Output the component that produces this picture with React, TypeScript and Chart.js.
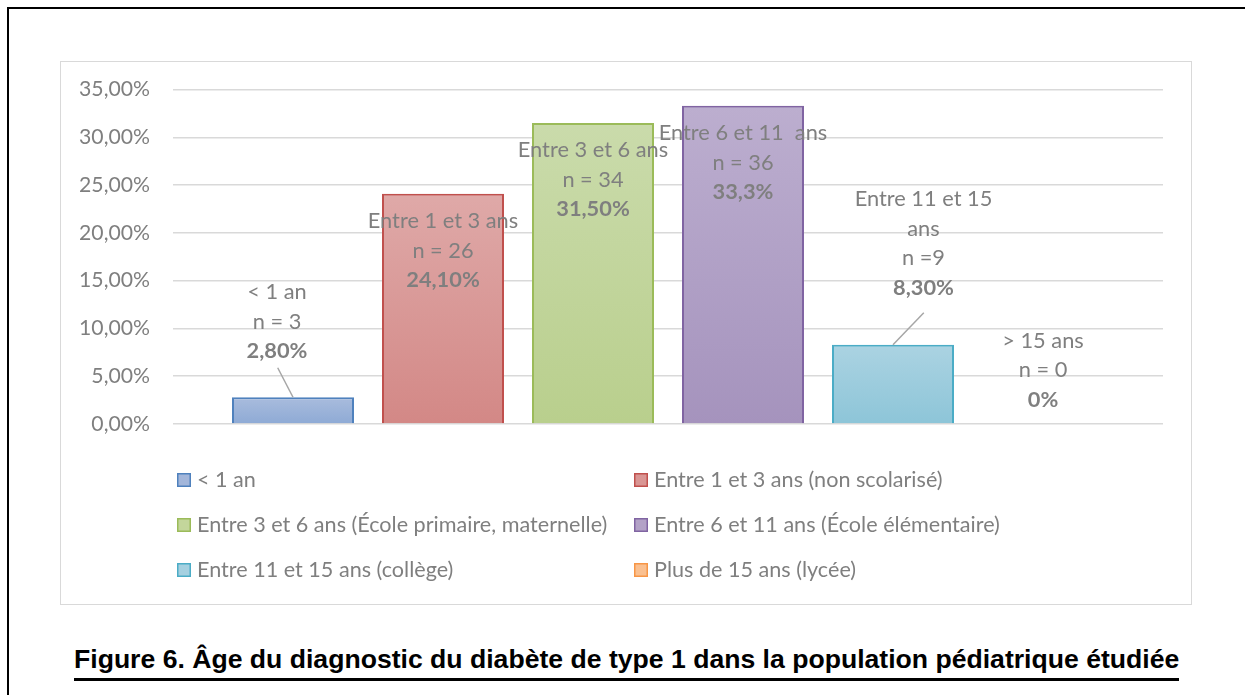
import React, { useEffect, useRef } from "react";
import { Chart, registerables } from "chart.js";
Chart.register(...registerables);

const categories = [""];
const seriesNames = [
  "< 1 an",
  "Entre 1 et 3 ans (non scolarisé)",
  "Entre 3 et 6 ans (École primaire, maternelle)",
  "Entre 6 et 11 ans (École élémentaire)",
  "Entre 11 et 15 ans (collège)",
  "Plus de 15 ans (lycée)",
];
const seriesValues = [2.8, 24.1, 31.5, 33.3, 8.3, 0];
const labelTexts = [
  ["< 1 an", "n = 3", "2,80%"],
  ["Entre 1 et 3 ans", "n = 26", "24,10%"],
  ["Entre 3 et 6 ans", "n = 34", "31,50%"],
  ["Entre 6 et 11  ans", "n = 36", "33,3%"],
  ["Entre 11 et 15", "ans", "n =9", "8,30%"],
  ["> 15 ans", "n = 0", "0%"],
];
const yMin = 0;
const yMax = 35;
const yStep = 5;
const captionText =
  "Figure 6. Âge du diagnostic du diabète de type 1 dans la population pédiatrique étudiée";

const borderColors = ["#4f81bd", "#c0504d", "#9bbb59", "#8064a2", "#4bacc6", "#f79646"];
const fillTop = ["#a9bcdd", "#dfa9a8", "#cadbab", "#bcaecf", "#abd3e2", "#fcc29a"];
const fillBottom = ["#8eaad5", "#d38886", "#b9cf8d", "#a593bd", "#8dc5d8", "#f9b07a"];
const legendFill = ["#a3b6da", "#d99694", "#c3d69b", "#b3a2c7", "#a5d0e0", "#fac090"];

const FONT = "Lato";
const TEXT_GRAY = "#7f7f7f";
const AXIS_SIZE = 21.2;
const LABEL_SIZE = 21.8;
const LEGEND_SIZE = 21.6;

// label block placement relative to the top-centre of each bar
const labelLayout = [
  { dx: -16, dy: -75.5, leader: [-15.3, -29.5] },
  { dx: 0, dy: 57, leader: null },
  { dx: 0, dy: 57, leader: null },
  { dx: 0, dy: 57, leader: null },
  { dx: 30.5, dy: -101.4, leader: [30.8, -32] },
  { dx: 0, dy: -54, leader: null },
];

const labelPlugin = {
  id: "barLabels",
  afterDatasetsDraw(chart: any) {
    const ctx = chart.ctx;
    const lh = 29.5;
    chart.data.datasets.forEach((_ds: any, i: number) => {
      const meta = chart.getDatasetMeta(i);
      const bar = meta.data[0];
      if (!bar) return;
      const x = bar.x;
      const y = bar.y;
      const lines = labelTexts[i];
      const lay = labelLayout[i];
      const startY = y + lay.dy - ((lines.length - 1) * lh) / 2;
      ctx.save();
      if (lay.leader) {
        ctx.strokeStyle = "#a6a6a6";
        ctx.lineWidth = 1.5;
        ctx.beginPath();
        ctx.moveTo(x + lay.leader[0], y + lay.leader[1]);
        ctx.lineTo(x, y);
        ctx.stroke();
      }
      ctx.fillStyle = TEXT_GRAY;
      ctx.textAlign = "center";
      ctx.textBaseline = "middle";
      lines.forEach((t, k) => {
        const bold = k === lines.length - 1;
        ctx.font = `${bold ? "bold " : ""}${LABEL_SIZE}px ${FONT}`;
        ctx.fillText(t, x + lay.dx, startY + k * lh);
      });
      ctx.restore();
    });
  },
};

const legendPlugin = {
  id: "gridLegend",
  afterDraw(chart: any) {
    const ctx = chart.ctx;
    const area = chart.chartArea;
    const colX = [area.left + 4, area.left + 461];
    const rowY0 = area.bottom + 56;
    const rowGap = 45;
    ctx.save();
    ctx.font = `${LEGEND_SIZE}px ${FONT}`;
    ctx.textBaseline = "middle";
    ctx.textAlign = "left";
    chart.data.datasets.forEach((ds: any, i: number) => {
      const cx = colX[i % 2];
      const cy = rowY0 + Math.floor(i / 2) * rowGap;
      ctx.fillStyle = legendFill[i];
      ctx.fillRect(cx, cy - 7, 14, 14);
      ctx.strokeStyle = borderColors[i];
      ctx.lineWidth = 1.5;
      ctx.strokeRect(cx + 0.75, cy - 6.25, 12.5, 12.5);
      ctx.fillStyle = TEXT_GRAY;
      ctx.fillText(ds.label, cx + 20, cy);
    });
    ctx.restore();
  },
};

export default function App() {
  const ref = useRef<HTMLCanvasElement | null>(null);
  useEffect(() => {
    if (!ref.current) return;
    const chart = new Chart(ref.current, {
      type: "bar",
      data: {
        labels: categories,
        datasets: seriesNames.map((name, i) => ({
          label: name,
          data: [seriesValues[i]],
          borderColor: borderColors[i],
          borderWidth: 2,
          backgroundColor: (c: any) => {
            const ch = c.chart;
            const ys = ch.scales && ch.scales.y;
            if (!ch.chartArea || !ys) return fillBottom[i];
            const top = ys.getPixelForValue(seriesValues[i]);
            const bottom = ys.getPixelForValue(0);
            if (!isFinite(top) || !isFinite(bottom) || bottom - top < 1) return fillBottom[i];
            const g = ch.ctx.createLinearGradient(0, top, 0, bottom);
            g.addColorStop(0, fillTop[i]);
            g.addColorStop(1, fillBottom[i]);
            return g;
          },
          categoryPercentage: 0.90909,
          barPercentage: 0.8133,
        })),
      },
      options: {
        responsive: false,
        animation: false,
        devicePixelRatio: 1,
        layout: { padding: { left: 0, right: 28, top: 27.5, bottom: 180 } },
        plugins: { legend: { display: false }, tooltip: { enabled: false } },
        scales: {
          x: { display: false },
          y: {
            min: yMin,
            max: yMax,
            ticks: {
              stepSize: yStep,
              padding: 0,
              color: TEXT_GRAY,
              font: { family: FONT, size: AXIS_SIZE },
              callback: (v: any) => Number(v).toFixed(2).replace(".", ",") + "%",
            },
            grid: {
              color: "#d9d9d9",
              lineWidth: 1.5,
              drawTicks: true,
              tickLength: 23,
              tickColor: "rgba(0,0,0,0)",
            },
            border: { display: false },
            afterFit: (s: any) => {
              s.width = 112;
            },
          },
        },
      },
      plugins: [labelPlugin, legendPlugin],
    } as any);
    return () => chart.destroy();
  }, []);

  return (
    <div style={{ position: "absolute", left: 0, top: 0, width: 1245, height: 695, overflow: "hidden", background: "#fff" }}>
      <div style={{ position: "absolute", left: 7, top: 7, width: 1400, height: 900, borderLeft: "2px solid #000", borderTop: "2px solid #000" }} />
      <div style={{ position: "absolute", left: 60, top: 61, width: 1130, height: 542, border: "1px solid #d9d9d9" }} />
      <canvas ref={ref} width={1130} height={542} style={{ position: "absolute", left: 61, top: 62, width: 1130, height: 542 }} />
      <div style={{ position: "absolute", left: 74, top: 644, whiteSpace: "nowrap", fontFamily: "'Liberation Sans', Arial, sans-serif", fontWeight: "bold", fontSize: 26.6, lineHeight: "30px", color: "#000" }}>
        <span style={{ display: "inline-block", borderBottom: "3.5px solid #000", paddingBottom: 4 }}>{captionText}</span>
      </div>
    </div>
  );
}
